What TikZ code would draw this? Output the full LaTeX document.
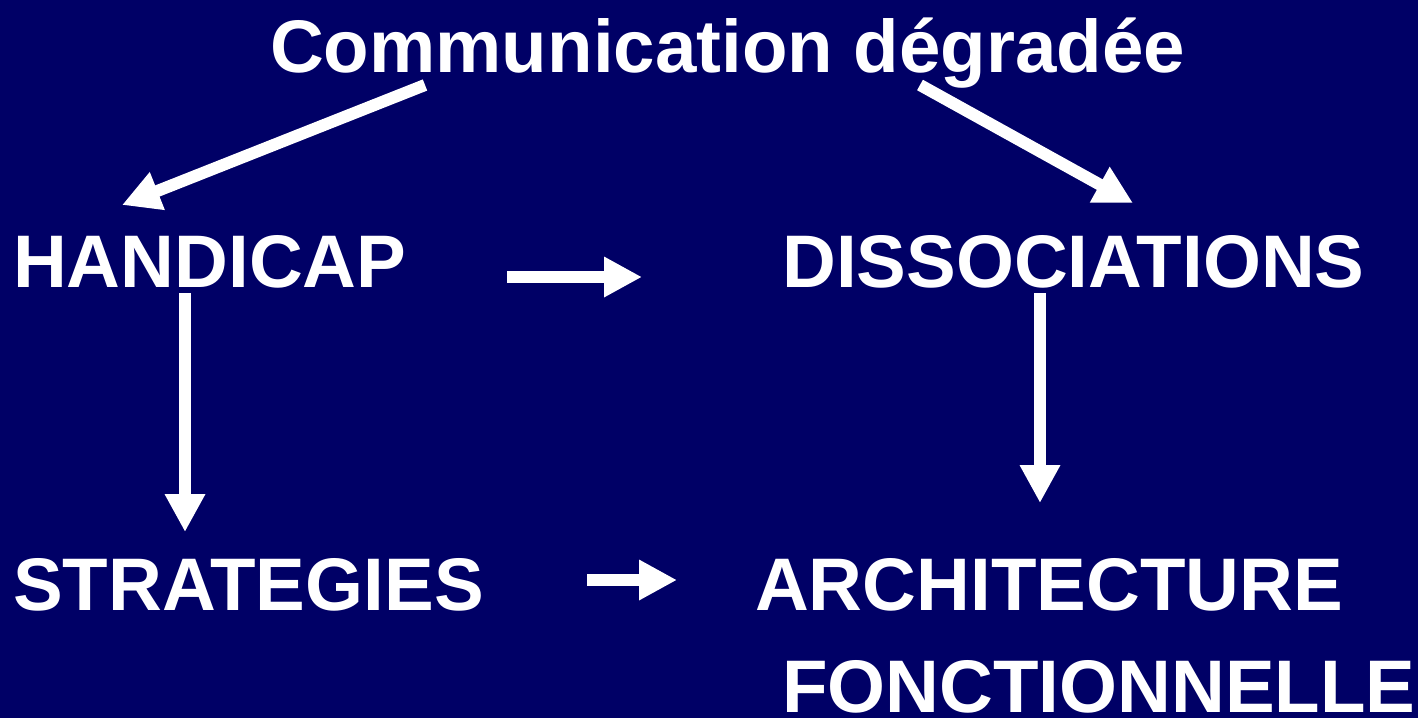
\documentclass[tikz,border=0pt]{standalone}
\usepackage{fontspec}
\setmainfont{Liberation Sans}
\usetikzlibrary{arrows.meta,calc}
\definecolor{navy}{RGB}{0,0,102}
\tikzset{
        word/.style = {text=white, inner sep=0pt, anchor=base west,
            font=\bfseries\fontsize{74.5}{78}\selectfont},
        arrow/.style = {draw=white, line width=12pt,
            -{Triangle[length=38pt,width=38pt]}},
    }

\begin{document}
\begin{tikzpicture}[x=1pt,y=-1pt]
    \fill[navy] (0,0) rectangle (1418,718);
    \useasboundingbox (0,0) rectangle (1418,718);

    \node[word] at (270,72) (title) {Communication dégradée};
    \node[word] at (13,287) (handicap) {HANDICAP};
    \node[word] at (782,287) (dissoc) {DISSOCIATIONS};
    \node[word] at (13,610) (strat) {STRATEGIES};
    \node[word] at (755,610) (archi) {ARCHITECTURE};
    \node[word] at (782,712) (fonct) {FONCTIONNELLE};

    % arrows
    \draw[arrow] ($(title.base west)+(155,13)$) -- ($(handicap.base west)+(109,-82)$);
    \draw[arrow] ($(title.base west)+(650,13)$) -- ($(dissoc.base west)+(351,-84)$);
    \draw[arrow] ($(handicap.base west)+(494,-10)$) -- ($(dissoc.base west)+(-140,-10)$);
    \draw[arrow] ($(handicap.base west)+(172,6)$) -- ($(strat.base west)+(172,-78)$);
    \draw[arrow] ($(dissoc.base west)+(258,6)$) -- ($(archi.base west)+(285,-107)$);
    \draw[arrow] ($(strat.base west)+(574,-30)$) -- ($(archi.base west)+(-78,-30)$);
\end{tikzpicture}
\end{document}
